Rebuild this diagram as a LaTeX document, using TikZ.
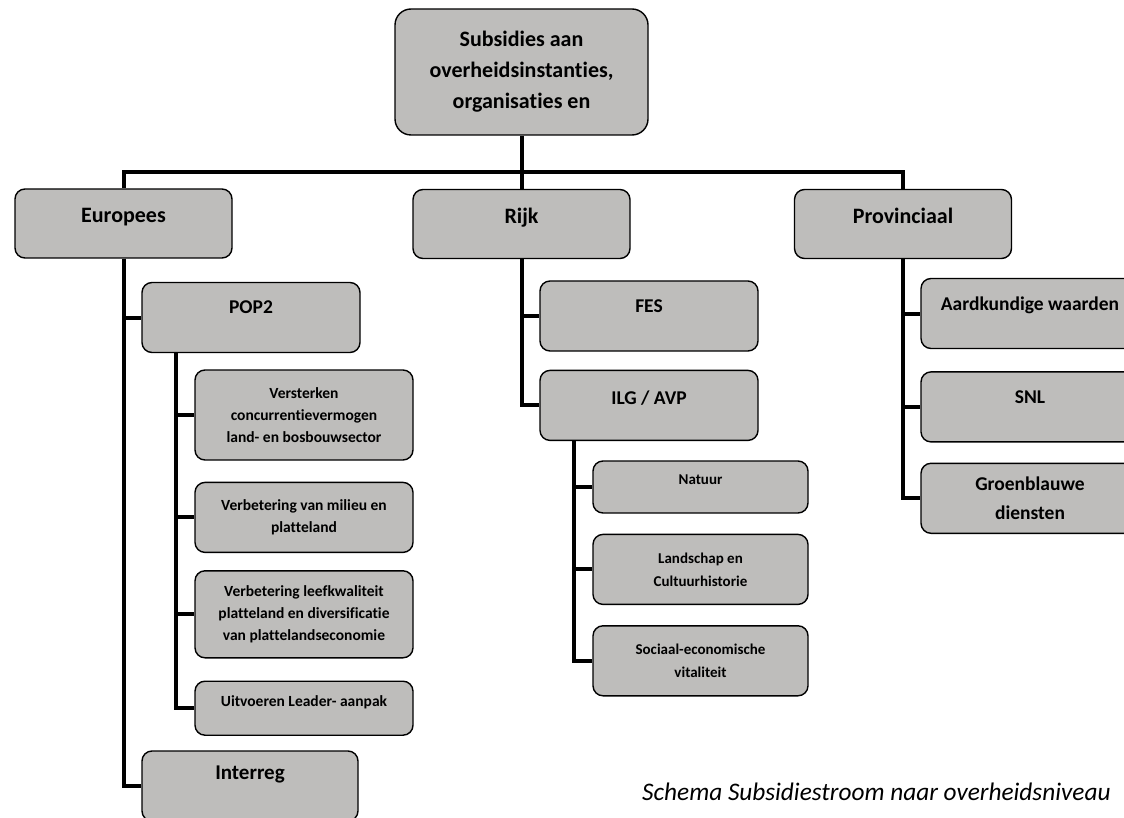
\documentclass[tikz,border=0pt]{standalone}
\usepackage{fontspec}
\setmainfont{Carlito}[Ligatures=NoCommon]
\usetikzlibrary{positioning}
\definecolor{boxgray}{RGB}{190,189,187}

\begin{document}
\begin{tikzpicture}[x=1pt, y=-1pt, node distance=20pt,
  box/.style={draw, line width=1.4pt, fill=boxgray, rounded corners=10pt, align=center, inner sep=3pt},
  rootbox/.style={box, rounded corners=16pt, minimum width=253pt, minimum height=126pt, font=\bfseries\fontsize{22}{31}\selectfont},
  lvlone/.style={box, minimum width=217pt, minimum height=69pt, text depth=17pt, font=\bfseries\fontsize{22}{27}\selectfont},
  lvltwo/.style={box, minimum width=218pt, minimum height=70pt, font=\bfseries\fontsize{19.5}{29}\selectfont},
  lvlthree/.style={box, minimum width=218pt, font=\bfseries\fontsize{15.5}{22}\selectfont},
  lift/.style={text depth=#1},
  conn/.style={line width=4pt}]
\useasboundingbox (0,0) rectangle (1124,818);
\clip (0,0) rectangle (1124,818);

% top and first level
\node[rootbox] (root) at (521.5,72) {Subsidies aan\\overheidsinstanties,\\organisaties en};
\node[lvlone] (eur) at (123.5,223.5) {Europees};
\node[lvlone] (rijk) at (521.5,224) {Rijk};
\node[lvlone] (prov) at (903,224) {Provinciaal};

% Europees
\node[lvltwo, lift=20pt] (pop2) at (251,317.5) {POP2};
\node[lvlthree, minimum height=90pt] (vers) at (304,415) {Versterken\\concurrentievermogen\\land- en bosbouwsector};
\node[lvlthree, minimum height=70pt, below=21pt of vers] (milieu) {Verbetering van milieu en\\platteland};
\node[lvlthree, minimum height=87pt, below=17pt of milieu] (leef) {Verbetering leefkwaliteit\\platteland en diversificatie\\van plattelandseconomie};
\node[lvlthree, minimum height=54pt, lift=14pt, below=22pt of leef] (uitv) {Uitvoeren Leader- aanpak};
\node[lvltwo, minimum width=216pt, lift=26pt, font=\bfseries\fontsize{21}{27}\selectfont] (interreg) at (250,786) {Interreg};

% Rijk
\node[lvltwo, lift=20pt] (fes) at (649,316) {FES};
\node[lvltwo, lift=16pt, below=18pt of fes] (ilg) {ILG / AVP};
\node[lvlthree, minimum width=215pt, minimum height=52pt, lift=14pt, font=\bfseries\fontsize{15}{23}\selectfont] (natuur) at (700.5,487) {Natuur};
\node[lvlthree, minimum width=215pt, minimum height=70pt, font=\bfseries\fontsize{15}{23}\selectfont, below=of natuur] (landschap) {Landschap en\\Cultuurhistorie};
\node[lvlthree, minimum width=215pt, minimum height=70pt, font=\bfseries\fontsize{15}{23}\selectfont, below=of landschap] (sociaal) {Sociaal-economische\\vitaliteit};

% Provinciaal
\node[lvltwo, lift=20pt] (aard) at (1030,313.5) {Aardkundige waarden};
\node[lvltwo, lift=20pt, below=22pt of aard] (snl) {SNL};
\node[lvltwo, below=of snl] (groen) {Groenblauwe\\diensten};

% connectors
\coordinate (bar) at (521.5,172);
\draw[conn] (root.south) -- (bar);
\draw[conn] (eur.north) |- (bar) -| (prov.north);
\draw[conn] (bar) -- (rijk.north);
\foreach \c in {pop2,interreg} \draw[conn] (eur.south) |- (\c.west);
\coordinate (popstem) at ([xshift=35pt]pop2.south west);
\foreach \c in {vers,milieu,leef,uitv} \draw[conn] (popstem) |- (\c.west);
\foreach \c in {fes,ilg} \draw[conn] (rijk.south) |- (\c.west);
\coordinate (ilgstem) at ([xshift=35pt]ilg.south west);
\foreach \c in {natuur,landschap,sociaal} \draw[conn] (ilgstem) |- (\c.west);
\foreach \c in {aard,snl,groen} \draw[conn] (prov.south) |- (\c.west);

\node[anchor=base west, inner sep=0pt, font=\itshape\fontsize{25.3}{30}\selectfont] (caption) at (642,800) {Schema Subsidiestroom naar overheidsniveau};
\end{tikzpicture}
\end{document}
